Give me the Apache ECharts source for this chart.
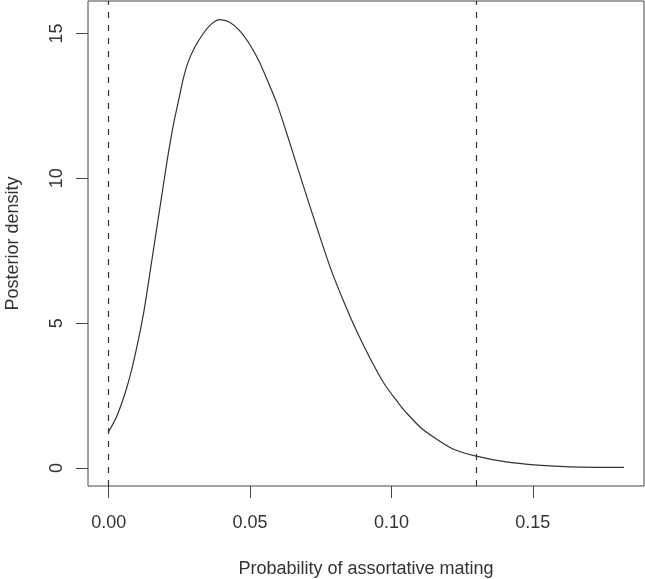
<!DOCTYPE html>
<html>
<head>
<meta charset="utf-8">
<script src="https://cdn.jsdelivr.net/npm/echarts@6/dist/echarts.min.js"></script>
<style>html,body{margin:0;padding:0;background:#fff;}#c{width:645px;height:579px;}</style>
</head>
<body>
<div id="c"></div>
<script>
var xValues = [0, 0.0028, 0.0058, 0.0081, 0.0099, 0.0116, 0.0128, 0.014, 0.0152, 0.0187, 0.0205, 0.0228, 0.0246, 0.0264, 0.0281, 0.0305, 0.0334, 0.0364, 0.0393, 0.0428, 0.0463, 0.0499, 0.0534, 0.0564, 0.0593, 0.0617, 0.0646, 0.0693, 0.074, 0.0787, 0.0834, 0.0881, 0.0928, 0.0975, 0.1028, 0.1046, 0.1105, 0.1164, 0.1222, 0.13, 0.14, 0.1517, 0.1634, 0.1822];
var densityValues = [1.25, 1.77, 2.58, 3.38, 4.15, 4.95, 5.6, 6.35, 7.12, 9.35, 10.5, 11.8, 12.63, 13.44, 14.01, 14.53, 14.99, 15.33, 15.48, 15.39, 15.10, 14.62, 14.0, 13.32, 12.63, 11.94, 11.05, 9.6, 8.19, 6.83, 5.68, 4.64, 3.72, 2.9, 2.2, 1.98, 1.38, 0.97, 0.64, 0.41, 0.22, 0.10, 0.04, 0.02];
var intervalBounds = [0, 0.13];
var xTicks = [0, 0.05, 0.10, 0.15];
var yTicks = [0, 5, 10, 15];

var pts = xValues.map(function (x, i) { return [x, densityValues[i]]; });
var font = '"Liberation Sans", Arial, sans-serif';
var chart = echarts.init(document.getElementById('c'), null, { renderer: 'canvas' });
chart.setOption({
  animation: false,
  backgroundColor: '#fff',
  grid: { left: 88, right: 1, top: 1, bottom: 93, outerBoundsMode: 'none', containLabel: false,
    show: true, borderColor: '#444', borderWidth: 1, backgroundColor: 'transparent' },
  xAxis: {
    type: 'value', min: -0.0073, max: 0.1893,
    name: 'Probability of assortative mating', nameLocation: 'middle', nameGap: 74,
    nameTextStyle: { fontFamily: font, fontSize: 18, color: '#333' },
    axisLine: { show: false, onZero: false },
    splitLine: { show: false },
    axisTick: { show: true, inside: false, length: 12, lineStyle: { color: '#444' }, customValues: xTicks },
    axisLabel: { customValues: xTicks, margin: 28, fontFamily: font, fontSize: 18, color: '#333',
      formatter: function (v) { return v.toFixed(2); } }
  },
  yAxis: {
    type: 'value', min: -0.62, max: 16.12,
    name: 'Posterior density', nameLocation: 'middle', nameGap: 66,
    nameTextStyle: { fontFamily: font, fontSize: 18, color: '#333' },
    axisLine: { show: false, onZero: false },
    splitLine: { show: false },
    axisTick: { show: true, inside: false, length: 12, lineStyle: { color: '#444' }, customValues: yTicks },
    axisLabel: { customValues: yTicks, rotate: 90, margin: 22, fontFamily: font, fontSize: 18, color: '#333' }
  },
  series: [{
    type: 'line', data: pts, showSymbol: false, smooth: 0.25,
    lineStyle: { color: '#333', width: 1.2 },
    markLine: {
      silent: true, symbol: ['none', 'none'], label: { show: false },
      lineStyle: { color: '#333', type: [6, 7], width: 1.2 },
      data: intervalBounds.map(function (v) { return { xAxis: v }; })
    }
  }]
});
</script>
</body>
</html>
